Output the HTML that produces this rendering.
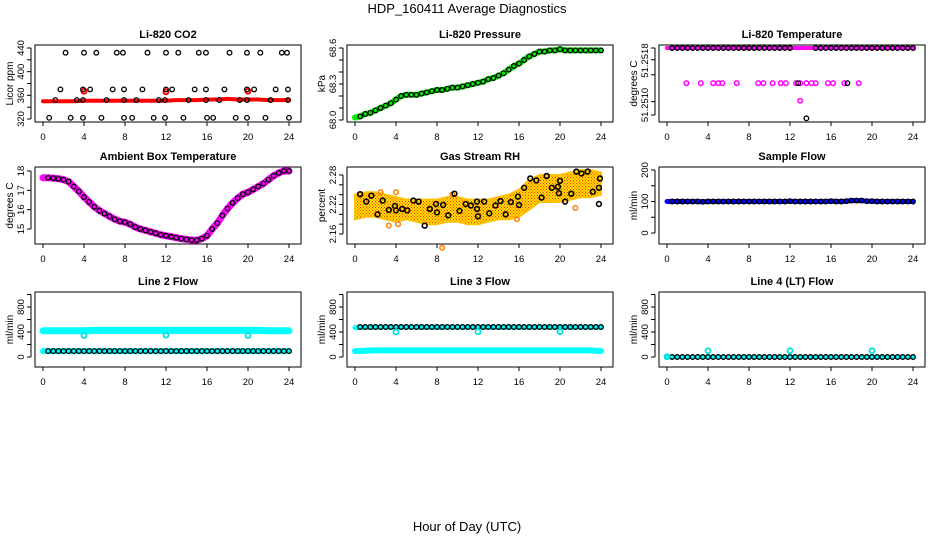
<!DOCTYPE html>
<html><head><meta charset="utf-8"><style>
html,body{margin:0;padding:0;background:#fff;}
svg{display:block;font-family:"Liberation Sans",Arial,sans-serif;}
.tick{font-size:9.5px;}
.ptitle{font-size:11px;font-weight:bold;}
</style></head><body>
<svg id="chart" width="936" height="540" viewBox="0 0 936 540" xmlns="http://www.w3.org/2000/svg">
<text x="467" y="13" text-anchor="middle" font-size="13">HDP_160411  Average Diagnostics</text>
<text x="467" y="531" text-anchor="middle" font-size="13">Hour of Day (UTC)</text>
</svg>
<script>
// ---- data ----
const xTicks = [0,4,8,12,16,20,24];
const halfHours = [0,0.5,1,1.5,2,2.5,3,3.5,4,4.5,5,5.5,6,6.5,7,7.5,8,8.5,9,9.5,10,10.5,11,11.5,12,12.5,13,13.5,14,14.5,15,15.5,16,16.5,17,17.5,18,18.5,19,19.5,20,20.5,21,21.5,22,22.5,23,23.5,24];
const hourly = [0,1,2,3,4,5,6,7,8,9,10,11,12,13,14,15,16,17,18,19,20,21,22,23,24];

// CO2
const co2Red = [350,350,350,350,351,351,351,351,351,351,351,351,351,352,352,352,353,353,354,353,353,353,352,352,352];
const co2RedSpikeHours = [4,12,20];
const co2RedSpikeValues = [367,366,367];
const co2BlackHours = [2.2,4.0,5.2,7.2,7.8,10.2,12.0,13.2,15.2,15.9,18.2,19.9,21.2,23.3,23.8,
 1.7,3.9,4.6,6.8,7.9,9.7,12.0,12.6,14.8,15.9,17.7,19.9,20.6,22.7,23.9,
 1.2,3.3,3.9,6.2,7.9,9.1,11.3,11.9,14.2,15.9,17.2,19.2,19.9,22.2,23.9,
 0.6,2.7,3.9,5.7,7.9,8.7,10.8,11.9,13.7,16.0,16.6,18.8,19.9,21.7,24.0];
const co2BlackValues = [432,432,432,432,432,432,432,432,432,432,432,432,432,432,432,
 370,370,370,370,370,370,370,370,370,370,370,370,370,370,370,
 352,352,352,352,352,352,352,352,352,352,352,352,352,352,352,
 322,322,322,322,322,322,322,322,322,322,322,322,322,322,322];

// Pressure
const pressure = [68.02,68.03,68.05,68.06,68.08,68.1,68.12,68.14,68.17,68.2,68.21,68.21,68.21,68.22,68.23,68.24,68.25,68.25,68.26,68.27,68.27,68.28,68.29,68.3,68.31,68.32,68.34,68.35,68.37,68.39,68.42,68.45,68.47,68.5,68.53,68.55,68.57,68.57,68.58,68.58,68.59,68.58,68.58,68.58,68.58,68.58,68.58,68.58,68.58];

// Li-820 temperature
const tempTop = [51.2518,51.2518,51.2518,51.2518,51.2518,51.2518,51.2518,51.2518,51.2518,51.2518,51.2518,51.2518,51.2518,51.2518,51.2518,51.2518,51.2518,51.2518,51.2518,51.2518,51.2518,51.2518,51.2518,51.2518,51.2518];
const tempTopCircleHours = [0.5,1,1.5,2,2.5,3,3.5,4,4.5,5,5.5,6,6.5,7,7.5,8,8.5,9,9.5,10,10.5,11,11.5,12,14.5,15,15.5,16,16.5,17,17.5,18,18.5,19,19.5,20,20.5,21,21.5,22,22.5,23,23.5,24];
const tempMidHours = [1.9,3.3,4.5,5.0,5.4,6.8,8.9,9.4,10.3,11.1,11.6,12.6,13.0,13.6,14.1,14.5,15.7,16.2,17.3,18.7];
const tempMidValues = [51.25138,51.25138,51.25138,51.25138,51.25138,51.25138,51.25138,51.25138,51.25138,51.25138,51.25138,51.25138,51.25138,51.25138,51.25138,51.25138,51.25138,51.25138,51.25138,51.25138];
const tempLowHours = [13.0];
const tempLowValues = [51.25117];
const tempBlackOddHours = [12.8,17.6,13.6];
const tempBlackOddValues = [51.25138,51.25138,51.25096];
const tempTickVals = [51.2518,51.25166,51.25148,51.25116,51.2510];
const tempLabelVals = [51.25165,51.25112];
const tempTickLabels = ["51.2518","51.2510"];

// Ambient
const ambient = [17.65,17.65,17.63,17.6,17.55,17.45,17.2,16.95,16.65,16.4,16.15,15.95,15.8,15.65,15.5,15.4,15.35,15.25,15.1,15.0,14.93,14.85,14.78,14.7,14.65,14.6,14.55,14.5,14.46,14.43,14.42,14.5,14.65,15.0,15.3,15.7,16.05,16.35,16.6,16.8,16.9,17.05,17.2,17.35,17.55,17.75,17.9,18.0,18.0];

// RH
const rhUpper = [2.24,2.245,2.245,2.24,2.235,2.23,2.23,2.23,2.23,2.235,2.235,2.23,2.23,2.23,2.235,2.24,2.25,2.27,2.28,2.28,2.28,2.285,2.29,2.29,2.285];
const rhLower = [2.19,2.195,2.195,2.19,2.185,2.19,2.185,2.18,2.18,2.185,2.185,2.18,2.18,2.185,2.19,2.19,2.195,2.21,2.225,2.225,2.225,2.23,2.235,2.235,2.24];
const rhOrangeHours = [3.3,4.2,8.5,2.5,4.0,15.8,21.5,9.5];
const rhOrangeValues = [2.177,2.18,2.132,2.245,2.245,2.19,2.213,2.24];
const rhHours = [0.5,1.1,1.6,2.2,2.7,3.3,3.9,4.0,4.6,5.1,5.7,6.2,6.8,7.3,7.9,8.0,8.6,9.1,9.7,10.2,10.8,11.3,11.9,11.9,12.0,12.6,13.1,13.7,14.2,14.7,15.2,15.9,16.0,16.5,17.1,17.7,18.2,18.7,19.2,19.8,19.9,20.0,20.5,21.1,21.6,22.1,22.7,23.2,23.8,23.8,23.9];
const rhValues = [2.241,2.226,2.238,2.200,2.228,2.209,2.217,2.208,2.211,2.208,2.228,2.226,2.177,2.211,2.221,2.204,2.219,2.198,2.242,2.207,2.221,2.218,2.226,2.211,2.196,2.226,2.202,2.218,2.227,2.200,2.225,2.236,2.219,2.254,2.273,2.269,2.234,2.278,2.254,2.256,2.243,2.268,2.226,2.242,2.287,2.283,2.287,2.246,2.254,2.221,2.273];

// Flows
const sampleFlow = [100,100,100,100,100,100,100,99,100,100,100,100,100,100,100,100,100,100,100,100,100,100,100,100,101,100,100,100,100,100,100,100,101,100,100,101,103,103,103,101,101,100,100,100,100,100,100,100,100];
const line2Upper = [420,420,420,420,420,425,425,425,425,425,425,425,425,425,425,425,425,425,425,425,425,425,420,420,420];
const line2Lower = [95,95,95,95,95,95,95,95,95,95,95,95,95,95,95,95,95,95,95,95,95,95,95,95,95];
const line2Circles = [95,95,95,95,95,95,95,95,95,95,95,95,95,95,95,95,95,95,95,95,95,95,95,95,95,95,95,95,95,95,95,95,95,95,95,95,95,95,95,95,95,95,95,95,95,95,95,95,95];
const line2DipHours = [4,12,20];
const line2DipValues = [345,350,345];
const line3Upper = [470,475,475,475,475,475,475,475,475,475,475,475,475,475,475,475,475,475,475,475,475,475,475,475,475];
const line3Lower = [95,100,105,105,105,105,105,105,105,105,105,105,105,105,105,105,105,105,105,105,105,105,105,105,95];
const line3Circles = [480,480,480,480,480,480,480,480,480,480,480,480,480,480,480,480,480,480,480,480,480,480,480,480,480,480,480,480,480,480,480,480,480,480,480,480,480,480,480,480,480,480,480,480,480,480,480,480,480];
const line3DipHours = [4,12,20];
const line3DipValues = [400,405,405];
const line4Circles = [0,0,0,0,0,0,0,0,0,0,0,0,0,0,0,0,0,0,0,0,0,0,0,0,0,0,0,0,0,0,0,0,0,0,0,0,0,0,0,0,0,0,0,0,0,0,0,0,0];
const line4SpikeHours = [4,12,20,0];
const line4SpikeValues = [100,100,100,5];

// ---- drawing ----
const svg = document.getElementById('chart');
const NS = 'http://www.w3.org/2000/svg';
function mk(tag, attrs, parent){
  const e = document.createElementNS(NS, tag);
  for (const k in attrs) e.setAttribute(k, attrs[k]);
  (parent||svg).appendChild(e);
  return e;
}
const defs = mk('defs', {});
const pat = mk('pattern', {id:'rhpat', width:'3', height:'3', patternUnits:'userSpaceOnUse'}, defs);
mk('rect', {x:0,y:0,width:3,height:3,fill:'#ffe000'}, pat);
mk('rect', {x:0,y:0,width:1,height:1,fill:'#ff3000'}, pat);
mk('rect', {x:1.5,y:1.5,width:1,height:1,fill:'#ff3000'}, pat);

function panel(col, row, title, ytitle, yref, yTickVals, yLabelVals, yLabelText, name){
  const off = col*312;
  const boxes = [[45,122],[167,244],[292,367]];
  const [top, bot] = boxes[row];
  const L = 35+off, R = 301+off;
  const x = h => 43+off + h/24*246;
  const y = v => yref[1] + (v - yref[0])*(yref[3]-yref[1])/(yref[2]-yref[0]);
  const g = mk('g', {});
  
  
  const t = mk('text', {x:(L+R)/2, y:top-7, 'text-anchor':'middle', class:'ptitle'}, g);
  t.textContent = title;
  
  
  const yt = mk('text', {x:0, y:0, 'text-anchor':'middle', 'font-size':'10', transform:`translate(${L-22},${(top+bot)/2}) rotate(-90)`}, g);
  yt.textContent = ytitle;
  
  
  const xa = mk('g', {}, g);
  
  
  mk('line', {x1:x(0), x2:x(24), y1:bot, y2:bot, stroke:'#000'}, xa);
  xTicks.forEach(v=>{
    mk('line', {x1:x(v), x2:x(v), y1:bot, y2:bot+4, stroke:'#000'}, xa);
    const tl = mk('text', {x:x(v), y:bot+18, 'text-anchor':'middle', class:'tick'}, xa);
    tl.textContent = v;
    
    
  });
  const ya = mk('g', {}, g);
  
  
  mk('line', {x1:L-4, x2:L-4, y1:y(yTickVals[0]), y2:y(yTickVals[yTickVals.length-1]), stroke:'#000'}, ya);
  yTickVals.forEach(v=>{
    mk('line', {x1:L-8, x2:L-4, y1:y(v), y2:y(v), stroke:'#000'}, ya);
  });
  yLabelVals.forEach((v,i)=>{
    const tl = mk('text', {x:0, y:0, 'text-anchor':'middle', class:'tick', transform:`translate(${L-11},${y(v)}) rotate(-90)`}, ya);
    tl.textContent = yLabelText[i];
    
    
  });
  const plot = mk('g', {}, g);
  
  
  mk('rect', {x:L, y:top, width:R-L, height:bot-top, fill:'none', stroke:'#000'}, g);
  return {x, y, g:plot};
}
function band(p, hs, vs, color, w, name){
  const pts = hs.map((h,i)=>p.x(h).toFixed(1)+','+p.y(vs[i]).toFixed(1)).join(' ');
  const e = mk('polyline', {points:pts, fill:'none', stroke:color, 'stroke-width':w, 'stroke-linejoin':'round', 'stroke-linecap':'round'}, p.g);
  
  
}
function circles(p, hs, vs, color, name, r, sw){
  hs.forEach((h,i)=>{
    const c = mk('circle', {cx:p.x(h), cy:p.y(vs[i]), r:r||2.3, fill:'none', stroke:color, 'stroke-width':sw||1.3}, p.g);
    
    
  });
}

let p = panel(0,0,'Li-820 CO2','Licor ppm',[440,48,320,119],[320,340,360,380,400,420,440],[320,360,400,440],['320','360','400','440'],'co2-panel');
band(p, hourly, co2Red, '#ff0000', 4, 'co2-red-band');
circles(p, co2RedSpikeHours, co2RedSpikeValues, '#ff0000', 'co2-red-point', 2.5, 2);
circles(p, co2BlackHours, co2BlackValues, '#000', 'co2-black-point');

p = panel(1,0,'Li-820 Pressure','kPa',[68.6,48,68.0,120],[68.0,68.1,68.2,68.3,68.4,68.5,68.6],[68.0,68.3,68.6],['68.0','68.3','68.6'],'pressure-panel');
band(p, halfHours, pressure, '#00ee00', 6, 'pressure-green-band');
circles(p, halfHours.slice(1), pressure.slice(1), '#000', 'pressure-point');

p = panel(2,0,'Li-820 Temperature','degrees C',[51.2518,48,51.2510,115],tempTickVals,tempLabelVals,tempTickLabels,'temperature-panel');
band(p, hourly, tempTop, '#ff00ff', 4, 'temp-magenta-band');
circles(p, tempTopCircleHours, tempTopCircleHours.map(()=>tempTop[0]), '#000', 'temp-black-point');
circles(p, tempMidHours, tempMidValues, '#ff00ff', 'temp-magenta-point', 2.3, 1.5);
circles(p, tempLowHours, tempLowValues, '#ff00ff', 'temp-magenta-point', 2.3, 1.5);
circles(p, tempBlackOddHours, tempBlackOddValues, '#000', 'temp-black-point');

p = panel(0,1,'Ambient Box Temperature','degrees C',[18,171,15,229],[15,16,17,18],[15,16,17,18],['15','16','17','18'],'ambient-panel');
band(p, halfHours, ambient, '#ff00ff', 7, 'ambient-magenta-band');
circles(p, halfHours.slice(1), ambient.slice(1), '#000', 'ambient-point');

p = panel(1,1,'Gas Stream RH','percent',[2.28,175,2.16,234],[2.16,2.18,2.20,2.22,2.24,2.26,2.28],[2.16,2.22,2.28],['2.16','2.22','2.28'],'rh-panel');
{
  const up = hourly.map((h,i)=>p.x(h).toFixed(1)+','+p.y(rhUpper[i]).toFixed(1));
  const lo = hourly.map((h,i)=>p.x(h).toFixed(1)+','+p.y(rhLower[i]).toFixed(1)).reverse();
  const poly = mk('polygon', {points:up.concat(lo).join(' '), fill:'url(#rhpat)', stroke:'#ffc000', 'stroke-width':2}, p.g);
  
  
}
circles(p, rhOrangeHours, rhOrangeValues, '#ff8000', 'rh-orange-point', 2.3, 1.5);
circles(p, rhHours, rhValues, '#000', 'rh-black-point', 2.4, 1.6);

p = panel(2,1,'Sample Flow','ml/min',[200,170,0,233],[0,50,100,150,200],[0,100,200],['0','100','200'],'sample-flow-panel');
band(p, halfHours, sampleFlow, '#0000ff', 5, 'sample-blue-band');
circles(p, halfHours.slice(1), sampleFlow.slice(1), '#000', 'sample-point');

p = panel(0,2,'Line 2 Flow','ml/min',[0,357,800,307],[0,200,400,600,800,1000],[0,400,800],['0','400','800'],'line2-panel');
band(p, hourly, line2Upper, '#00ffff', 7, 'line2-upper-band');
band(p, hourly, line2Lower, '#00ffff', 6, 'line2-lower-band');
circles(p, halfHours.slice(1), line2Circles.slice(1), '#000', 'line2-point');
circles(p, line2DipHours, line2DipValues, '#00e0e0', 'line2-cyan-point', 2.5, 1.8);

p = panel(1,2,'Line 3 Flow','ml/min',[0,357,800,307],[0,200,400,600,800,1000],[0,400,800],['0','400','800'],'line3-panel');
band(p, hourly, line3Upper, '#00ffff', 5, 'line3-upper-band');
band(p, hourly, line3Lower, '#00ffff', 6, 'line3-lower-band');
circles(p, halfHours.slice(1), line3Circles.slice(1), '#000', 'line3-point');
circles(p, line3DipHours, line3DipValues, '#00e0e0', 'line3-cyan-point', 2.5, 1.8);

p = panel(2,2,'Line 4 (LT) Flow','ml/min',[0,357,800,307],[0,200,400,600,800,1000],[0,400,800],['0','400','800'],'line4-panel');
band(p, halfHours, line4Circles, '#00ffff', 4, 'line4-cyan-band');
circles(p, halfHours.slice(1), line4Circles.slice(1), '#000', 'line4-point');
circles(p, line4SpikeHours, line4SpikeValues, '#00e0e0', 'line4-cyan-point', 2.5, 1.8);
</script>
</body></html>
